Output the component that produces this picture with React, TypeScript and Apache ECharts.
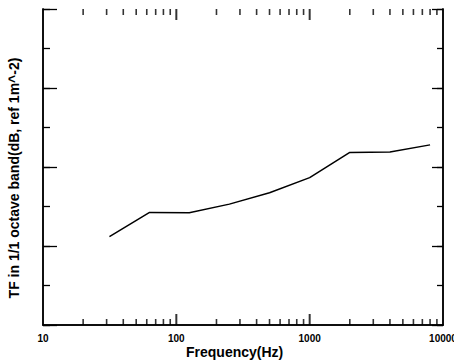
import React, { useEffect, useRef } from "react";
import * as echarts from "echarts";

const freqs = [31.5, 63, 125, 250, 500, 1000, 2000, 4000, 8000];
const tfValues = [22.4, 28.5, 28.4, 30.6, 33.5, 37.3, 43.7, 43.8, 45.6];
const minorTickFreqs = [
  20, 30, 40, 50, 60, 70, 80, 90,
  200, 300, 400, 500, 600, 700, 800, 900,
  2000, 3000, 4000, 5000, 6000, 7000, 8000, 9000,
];
const majorTickFreqs = [100, 1000];
const xMin = 10;
const xMax = 10000;
const yMin = 0;
const yMax = 80;
const xTitle = "Frequency(Hz)";
const yTitle = "TF in 1/1 octave band(dB, ref 1m^-2)";

export default function App() {
  const ref = useRef<HTMLDivElement>(null);
  useEffect(() => {
    if (!ref.current) return;
    const chart = echarts.init(ref.current, null, { renderer: "svg" });
    const axisLine = { show: true, lineStyle: { color: "#000", width: 1.5 } };
    const baseX = (pos: "bottom" | "top", showLabel: boolean) => ({
      type: "log" as const,
      logBase: 10,
      min: xMin,
      max: xMax,
      position: pos,
      axisLine,
      axisTick: { show: false },
      axisLabel: {
        show: showLabel,
        color: "#000",
        fontWeight: "bold" as const,
        fontSize: 10,
        fontFamily: "Liberation Sans, Arial, sans-serif",
        margin: 8,
        formatter: (v: number) => String(Math.round(v)),
      },
      splitLine: { show: false },
      minorTick: { show: false },
    });
    const baseY = (pos: "left" | "right", interval: number, len: number) => ({
      type: "value" as const,
      min: yMin,
      max: yMax,
      interval,
      position: pos,
      axisLine,
      axisTick: { show: true, inside: true, length: len, lineStyle: { color: "#000", width: 1.3 } },
      axisLabel: { show: false },
      splitLine: { show: false },
    });
    const tickSeries = (list: number[], yVal: number, dir: number, len: number, width: number) => ({
      type: "scatter",
      xAxisIndex: 0,
      yAxisIndex: 0,
      silent: true,
      clip: false,
      symbol: "rect",
      symbolSize: [width, len],
      symbolOffset: [0, (dir * len) / 2],
      itemStyle: { color: "#000" },
      data: list.map((f) => [f, yVal]),
      z: 5,
    });
    chart.setOption({
      animation: false,
      backgroundColor: "#fff",
      grid: { left: 43, right: 11, top: 9, bottom: 35, containLabel: false, outerBoundsMode: "none" },
      xAxis: [baseX("bottom", true), baseX("top", false)],
      yAxis: [
        baseY("left", 10, 7),
        baseY("left", 20, 14),
        baseY("right", 10, 6),
        baseY("right", 20, 11),
      ],
      series: [
        {
          type: "line",
          xAxisIndex: 0,
          yAxisIndex: 0,
          data: freqs.map((f, i) => [f, tfValues[i]]),
          showSymbol: false,
          lineStyle: { color: "#000", width: 1.5 },
          itemStyle: { color: "#000" },
        },
        tickSeries(minorTickFreqs, yMin, -1, 6, 1.6),
        tickSeries(minorTickFreqs, yMax, 1, 6, 1.6),
        tickSeries(majorTickFreqs, yMin, -1, 11, 2),
        tickSeries(majorTickFreqs, yMax, 1, 11, 2),
      ],
      graphic: [
        {
          type: "text",
          left: 241 - 55,
          top: 345,
          style: {
            text: xTitle,
            fill: "#000",
            font: "bold 14px 'Liberation Sans', Arial, sans-serif",
          },
        },
        {
          type: "text",
          x: 14,
          y: 178,
          rotation: Math.PI / 2,
          style: {
            text: yTitle,
            fill: "#000",
            font: "bold 14px 'Liberation Sans', Arial, sans-serif",
            align: "center",
            verticalAlign: "middle",
          },
        },
      ],
    });
    return () => chart.dispose();
  }, []);
  return (
    <div
      ref={ref}
      style={{ position: "fixed", left: 0, top: 0, width: 454, height: 360 }}
    />
  );
}
